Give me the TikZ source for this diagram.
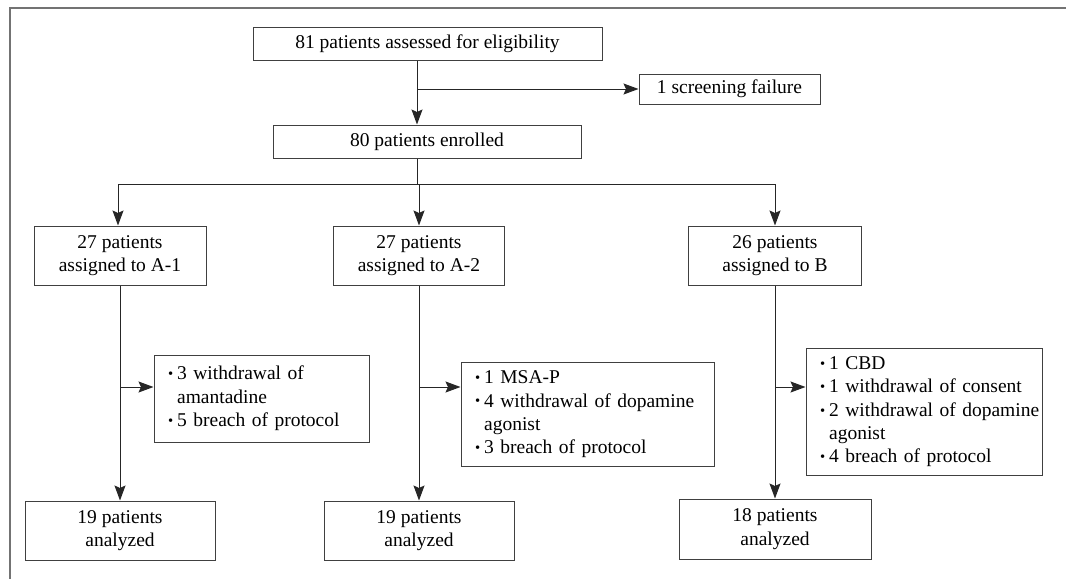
\documentclass[tikz,border=0pt]{standalone}
\usepackage{fontspec}
\setmainfont{Liberation Serif}
\usetikzlibrary{arrows.meta}
\newcommand\bul{\raisebox{0.12ex}{\scalebox{0.75}{\textbullet}}}
\begin{document}
\begin{tikzpicture}[x=1pt,y=-1pt,
  line width=1pt,
  every node/.style={font=\fontsize{19.5}{23.3}\selectfont, text=black},
  box/.style={draw=black!75, line width=1pt, inner sep=0pt, align=center},
  exbox/.style={draw=black!75, line width=1pt, inner xsep=14pt, inner ysep=0pt, align=left},
  arr/.style={draw=black!85, -{Stealth[length=15pt,width=11pt,inset=2.5pt]}},
  ln/.style={draw=black!85}]
\useasboundingbox (0,0) rectangle (1066,579);
% frame
\draw[black!55, line width=1.3pt] (1066,8) -- (10,8) -- (10,579);
% top boxes
\node[box, minimum width=349pt, minimum height=33pt] (b81) at (427.5,43.5) {81 patients assessed for eligibility};
\node[box, minimum width=181pt, minimum height=30pt] (sf) at (729.5,89) {1 screening failure};
\node[box, minimum width=308pt, minimum height=33pt] (b80) at (427,141.5) {80 patients enrolled};
\coordinate (c0) at (417,0);
\coordinate (jsf) at (417,89);
\draw[arr] (c0 |- b81.south) -- (c0 |- b80.north);
\draw[arr] (jsf) -- (sf.west);
% assigned boxes
\node[box, minimum width=172pt, minimum height=59pt] (a1) at (120,255.5) {27 patients\\assigned to A-1};
\node[box, minimum width=171pt, minimum height=59pt] (a2) at (419,255.5) {27 patients\\assigned to A-2};
\node[box, minimum width=173pt, minimum height=59pt] (ab) at (775,255.5) {26 patients\\assigned to B};
\coordinate (split) at (417,184);
\draw[ln] (c0 |- b80.south) -- (split);
\coordinate (sl) at (118,184);
\coordinate (sr) at (775,184);
\draw[arr] (split) -- (sl) -- (sl |- a1.north);
\draw[arr] (split -| a2.north) -- (a2.north);
\draw[arr] (split) -- (sr) -- (ab.north);
% analyzed boxes
\node[box, minimum width=190pt, minimum height=59pt] (n1) at (120,530.5) {19 patients\\analyzed};
\node[box, minimum width=190pt, minimum height=59pt] (n2) at (419,530.5) {19 patients\\analyzed};
\node[box, minimum width=192pt, minimum height=60pt] (nb) at (775,529) {18 patients\\analyzed};
\draw[arr] (a1.south) -- (n1.north);
\draw[arr] (a2.south) -- (n2.north);
\draw[arr] (ab.south) -- (nb.north);
% exclusion boxes
\node[exbox, text width=187pt, minimum height=87pt] (e1) at (261.5,398.5)
  {\begin{tabular}{@{}l@{\hspace{4pt}}l@{}}\bul & 3 withdrawal of\\ & amantadine\\ \bul & 5 breach of protocol\end{tabular}};
\node[exbox, text width=225pt, minimum height=104pt] (e2) at (587.5,414)
  {\begin{tabular}{@{}l@{\hspace{4pt}}l@{}}\bul & 1 MSA-P\\ \bul & 4 withdrawal of dopamine\\ & agonist\\ \bul & 3 breach of protocol\end{tabular}};
\node[exbox, text width=208pt, minimum height=127pt] (e3) at (924,411.5)
  {\begin{tabular}{@{}l@{\hspace{4pt}}l@{}}\bul & 1 CBD\\ \bul & 1 withdrawal of consent\\ \bul & 2 withdrawal of dopamine\\ & agonist\\ \bul & 4 breach of protocol\end{tabular}};
\coordinate (j1) at (120,387);
\coordinate (j2) at (419,387);
\coordinate (j3) at (775,387);
\draw[arr] (j1) -- (j1 -| e1.west);
\draw[arr] (j2) -- (j2 -| e2.west);
\draw[arr] (j3) -- (j3 -| e3.west);
\end{tikzpicture}
\end{document}
